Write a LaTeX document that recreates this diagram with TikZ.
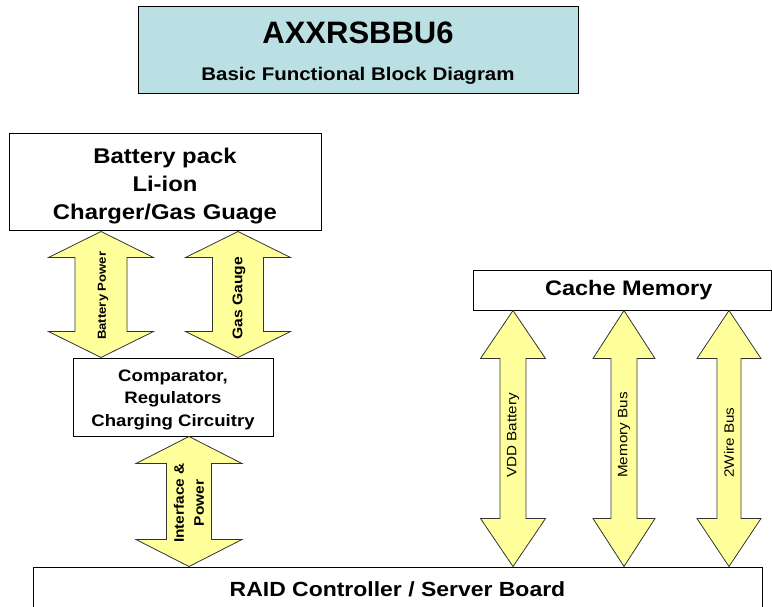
\documentclass[tikz,border=0pt]{standalone}
\usepackage{fontspec}
\setmainfont{Liberation Sans}[FakeStretch=1.12]
\newfontfamily\titlefont{Liberation Sans}
\usetikzlibrary{positioning,calc}
\definecolor{titleblue}{RGB}{187,224,227}
\definecolor{busyellow}{RGB}{255,255,155}
\tikzset{
  block/.style={draw=black, line width=1pt, fill=white, inner sep=0pt, align=center},
  busarrow/.style={draw=black!80, line width=0.8pt, fill=busyellow, line join=miter},
  busshape/.style n args={3}{to path={let \p1=(\tikztostart), \p2=(\tikztotarget) in
      (\p1) -- (\x1+#1pt,\y1-#3pt) -- (\x1+#2pt,\y1-#3pt) -- (\x2+#2pt,\y2+#3pt) -- (\x2+#1pt,\y2+#3pt) -- (\p2)
      -- (\x2-#1pt,\y2+#3pt) -- (\x2-#2pt,\y2+#3pt) -- (\x1-#2pt,\y1-#3pt) -- (\x1-#1pt,\y1-#3pt) -- cycle}},
  buslabel/.style={rotate=90, inner sep=0pt},
}

\begin{document}
\begin{tikzpicture}[x=1pt,y=-1pt]
        \path[use as bounding box, clip] (0,0) rectangle (772,607);
        \node[block, fill=titleblue, minimum width=440pt, minimum height=87pt] (title) at (358,50.5) {};
        \node[anchor=base, font=\titlefont\bfseries\fontsize{31}{31}\selectfont] (titletext) at (358,43.8) {AXXRSBBU6};
        \node[anchor=base, font=\bfseries\fontsize{18.3}{20}\selectfont] (subtitle) at (358,81) {Basic Functional Block Diagram};
        \node[block, minimum width=312pt, minimum height=97pt, text height=78pt, font=\bfseries\fontsize{21.3}{28}\selectfont] (batt) at (165,182.5) {Battery pack\\Li-ion\\Charger/Gas Guage};
        \node[block, minimum width=200pt, minimum height=78pt, text height=62pt, font=\bfseries\fontsize{16.6}{22.5}\selectfont] (comp) at (173,397) {Comparator,\\Regulators\\Charging Circuitry};
        \node[block, minimum width=298.5pt, minimum height=40pt, font=\bfseries\fontsize{21}{24}\selectfont] (cache) at (622.25,290) {\hspace*{13pt}Cache Memory};
        \node[block, minimum width=729pt, minimum height=45pt, font=\bfseries\fontsize{20.5}{24}\selectfont] (raid) at (397.5,589.5) {RAID Controller / Server Board};

        \coordinate (bp) at (101,0);
        \coordinate (gg) at (238,0);
        \coordinate (ifp) at (189,0);
        \draw[busarrow, busshape={52.5}{26}{26}] (batt.south -| bp) to (comp.north -| bp);
        \draw[busarrow, busshape={52.5}{25.5}{26}] (batt.south -| gg) to (comp.north -| gg);
        \draw[busarrow, busshape={53}{22.5}{27}] (comp.south -| ifp) to (raid.north -| ifp);
        \node[buslabel, anchor=west, font=\bfseries\fontsize{11.7}{14}\selectfont] (bp-lbl) at (103,340) {Battery Power};
        \node[buslabel, anchor=west, font=\bfseries\fontsize{14}{16}\selectfont] (gg-lbl) at (239,340) {Gas Gauge};
        \node[buslabel, align=center, font=\bfseries\fontsize{13.8}{20}\selectfont] (ifp-lbl) at (189,503) {Interface \&\\Power};

        \foreach \bname/\bx/\bhead/\bshaft/\btext in {vdd/513/32.5/13/VDD Battery, mem/624/31/13/Memory Bus, wire/729/32/12/2Wire Bus} {
            \coordinate (\bname) at (\bx,0);
            \draw[busarrow, busshape={\bhead}{\bshaft}{48}] (cache.south -| \bname) to (raid.north -| \bname);
            \node[buslabel, anchor=west, font=\fontsize{13.6}{16}\selectfont] (\bname-lbl) at (\bx,478) {\btext};
        }
    \end{tikzpicture}
\end{document}
